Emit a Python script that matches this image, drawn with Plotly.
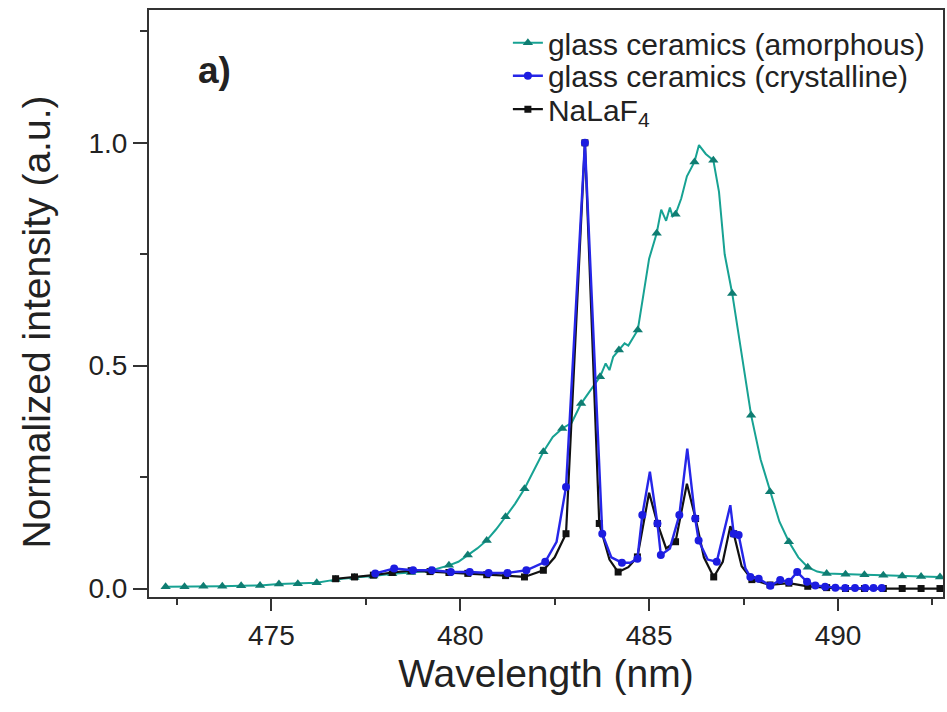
import numpy as np
import plotly.graph_objects as go

# ---- emission spectra: wavelength (nm) and normalized intensity ----
amorph_wl = [472.2, 472.7, 473.2, 473.7, 474.2, 474.7, 475.2, 475.7, 476.2, 476.7,
             477.2, 477.7, 478.2, 478.7, 479.2, 479.7, 479.95, 480.2, 480.45, 480.7,
             480.95, 481.2, 481.45, 481.7, 481.95, 482.2, 482.45, 482.7, 482.95, 483.2,
             483.45, 483.7, 483.85, 483.95, 484.05, 484.2, 484.35, 484.45, 484.6, 484.7,
             484.85, 485.0, 485.2, 485.32, 485.45, 485.55, 485.62, 485.7, 485.85, 486.0,
             486.2, 486.32, 486.5, 486.7, 486.85, 487.0, 487.2, 487.45, 487.7, 487.95,
             488.2, 488.45, 488.7, 488.95, 489.2, 489.45, 489.7, 490.2, 490.7, 491.2,
             491.7, 492.2, 492.7]
amorph_int = [0.004, 0.004, 0.005, 0.005, 0.006, 0.007, 0.010, 0.011, 0.013, 0.020,
              0.025, 0.028, 0.033, 0.036, 0.040, 0.052, 0.060, 0.075, 0.090, 0.108,
              0.133, 0.161, 0.190, 0.224, 0.265, 0.307, 0.340, 0.359, 0.372, 0.415,
              0.445, 0.475, 0.505, 0.490, 0.520, 0.535, 0.550, 0.545, 0.565, 0.580,
              0.660, 0.740, 0.797, 0.850, 0.825, 0.855, 0.835, 0.840, 0.875, 0.925,
              0.957, 0.995, 0.975, 0.961, 0.890, 0.750, 0.662, 0.520, 0.389, 0.290,
              0.217, 0.150, 0.105, 0.070, 0.048, 0.038, 0.034, 0.032, 0.031, 0.030,
              0.028, 0.027, 0.026]
amorph_marker_wl = [472.2, 472.7, 473.2, 473.7, 474.2, 474.7, 475.2, 475.7, 476.2, 476.7,
                    477.2, 477.7, 478.2, 478.7, 479.2, 479.7, 480.2, 480.7, 481.2, 481.7,
                    482.2, 482.7, 483.2, 483.7, 484.2, 484.7, 485.2, 485.7, 486.2, 486.7,
                    487.2, 487.7, 488.2, 488.7, 489.2, 489.7, 490.2, 490.7, 491.2, 491.7,
                    492.2, 492.7]

cryst_wl = [477.75, 478.25, 478.75, 479.25, 479.75, 480.25, 480.75, 481.25, 481.75, 482.25,
            482.55, 482.8, 483.3, 483.76, 484.0, 484.28, 484.5, 484.69, 484.82, 485.02,
            485.22, 485.31, 485.55, 485.8, 486.01, 486.22, 486.31, 486.55, 486.79, 487.15,
            487.24, 487.37, 487.55, 487.68, 487.9, 488.21, 488.47, 488.7, 488.92, 489.18,
            489.4, 489.66, 489.93, 490.19, 490.45, 490.72, 490.94, 491.16]
cryst_int = [0.034, 0.045, 0.041, 0.041, 0.037, 0.037, 0.035, 0.035, 0.041, 0.060,
             0.105, 0.228, 1.000, 0.123, 0.070, 0.058, 0.058, 0.067, 0.165, 0.262,
             0.146, 0.075, 0.090, 0.165, 0.314, 0.157, 0.108, 0.065, 0.060, 0.187,
             0.123, 0.120, 0.045, 0.026, 0.022, 0.006, 0.019, 0.015, 0.037, 0.015,
             0.007, 0.004, 0.002, 0.001, 0.001, 0.001, 0.001, 0.001]
cryst_marker_wl = [477.75, 478.25, 478.75, 479.25, 479.75, 480.25, 480.75, 481.25, 481.75,
                   482.25, 482.8, 483.3, 483.76, 484.28, 484.69, 484.82, 485.22, 485.31,
                   485.8, 486.22, 486.31, 486.79, 487.24, 487.37, 487.68, 487.9, 488.21,
                   488.47, 488.7, 488.92, 489.18, 489.4, 489.66, 489.93, 490.19, 490.45,
                   490.72, 490.94, 491.16]

nalaf_wl = [476.7, 477.2, 477.7, 478.2, 478.7, 479.2, 479.7, 480.2, 480.7, 481.2,
            481.7, 482.2, 482.5, 482.8, 483.3, 483.68, 483.95, 484.18, 484.45, 484.69,
            485.0, 485.22, 485.45, 485.7, 486.0, 486.23, 486.45, 486.71, 486.95, 487.15,
            487.24, 487.45, 487.72, 488.2, 488.7, 489.2, 489.7, 490.2, 490.7, 491.2,
            491.7, 492.2, 492.7]
nalaf_int = [0.022, 0.026, 0.030, 0.036, 0.040, 0.038, 0.036, 0.034, 0.031, 0.029,
             0.026, 0.041, 0.070, 0.123, 1.000, 0.146, 0.065, 0.037, 0.048, 0.071,
             0.215, 0.146, 0.090, 0.105, 0.235, 0.157, 0.070, 0.026, 0.060, 0.140,
             0.123, 0.050, 0.020, 0.008, 0.012, 0.005, 0.002, 0.000, 0.000, 0.000,
             0.000, 0.000, 0.000]
nalaf_marker_wl = [476.7, 477.2, 477.7, 478.2, 478.7, 479.2, 479.7, 480.2, 480.7, 481.2,
                   481.7, 482.2, 482.8, 483.3, 483.68, 484.18, 484.69, 485.22, 485.7,
                   486.23, 486.71, 487.24, 487.72, 488.2, 488.7, 489.2, 489.7, 490.2,
                   490.7, 491.2, 491.7, 492.2, 492.7]

x_ticks = [475, 480, 485, 490]
y_ticks = [0.0, 0.5, 1.0]

FONT = "Liberation Sans, Arial, Helvetica, sans-serif"
TEXT = "#222222"
AXIS = "#333333"

series = [
    # name, wl, intensity, marker wl, line colour, marker colour, symbol, size, width, legend id
    ("glass ceramics (amorphous)", amorph_wl, amorph_int, amorph_marker_wl,
     "#17a293", "#0f7d72", "triangle-up", 9, 2.0, "legend"),
    ("NaLaF<sub>4</sub>", nalaf_wl, nalaf_int, nalaf_marker_wl,
     "#111111", "#111111", "square", 7, 2.2, "legend3"),
    ("glass ceramics (crystalline)", cryst_wl, cryst_int, cryst_marker_wl,
     "#2626e8", "#1c1ce0", "circle", 8, 2.4, "legend2"),
]

fig = go.Figure()
for name, wl, inten, mwl, lc, mc, sym, ms, lw, leg in series:
    fig.add_trace(go.Scatter(x=wl, y=inten, mode="lines",
                             line=dict(color=lc, width=lw),
                             showlegend=False, hoverinfo="skip"))
    fig.add_trace(go.Scatter(x=mwl, y=np.interp(mwl, wl, inten), mode="markers",
                             marker=dict(symbol=sym, size=ms, color=mc),
                             showlegend=False, hoverinfo="skip"))
    # legend entry (line with marker)
    fig.add_trace(go.Scatter(x=[None], y=[None], mode="lines+markers", name=name,
                             line=dict(color=lc, width=lw),
                             marker=dict(symbol=sym, size=ms, color=mc),
                             legend=leg))

legend_common = dict(font=dict(family=FONT, size=30, color=TEXT),
                     bgcolor="rgba(0,0,0,0)", borderwidth=0,
                     xanchor="left", yanchor="middle", itemwidth=30)

fig.update_layout(
    width=947, height=712,
    margin=dict(l=149, r=2, t=10, b=115),
    paper_bgcolor="white", plot_bgcolor="white",
    font=dict(family=FONT, color=TEXT),
    legend=dict(x=0.452, y=0.944, **legend_common),
    legend2=dict(x=0.452, y=0.888, **legend_common),
    legend3=dict(x=0.452, y=0.831, **legend_common),
    xaxis=dict(range=[471.76, 492.78], tickvals=x_ticks,
               showgrid=False, zeroline=False,
               showline=True, linecolor=AXIS, linewidth=2, mirror=True,
               ticks="outside", ticklen=12, tickwidth=2, tickcolor=AXIS,
               minor=dict(dtick=2.5, tick0=475, ticks="outside", ticklen=6,
                          tickwidth=2, tickcolor=AXIS),
               tickfont=dict(size=28, family=FONT, color=TEXT),
               title=dict(text="Wavelength (nm)", standoff=10,
                          font=dict(size=39, family=FONT, color=TEXT))),
    yaxis=dict(range=[-0.019, 1.298], tickvals=y_ticks, tickformat=".1f",
               showgrid=False, zeroline=False,
               showline=True, linecolor=AXIS, linewidth=2, mirror=True,
               ticks="outside", ticklen=14, tickwidth=2, tickcolor=AXIS,
               minor=dict(dtick=0.25, tick0=0, ticks="outside", ticklen=7,
                          tickwidth=2, tickcolor=AXIS),
               tickfont=dict(size=28, family=FONT, color=TEXT)),
    annotations=[
        dict(text="<b>a)</b>", xref="paper", yref="paper",
             x=0.082, y=0.897, xanchor="center", yanchor="middle",
             showarrow=False, font=dict(size=37, family=FONT, color=TEXT)),
        dict(text="Normalized intensity (a.u.)", xref="paper", yref="paper",
             x=-0.142, y=0.468, xanchor="center", yanchor="middle", textangle=-90,
             showarrow=False, font=dict(size=39, family=FONT, color=TEXT)),
    ],
)

fig.write_html("out.html")
